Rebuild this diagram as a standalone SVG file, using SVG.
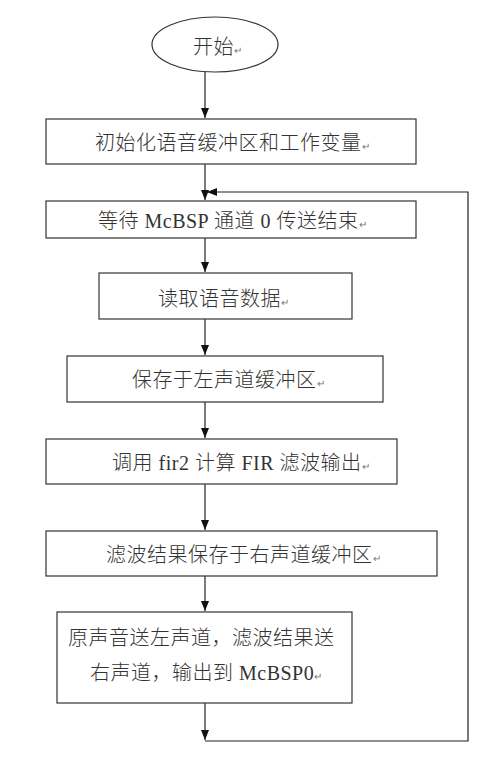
<svg xmlns="http://www.w3.org/2000/svg" width="500" height="778" viewBox="0 0 500 778">
<defs>
<marker id="arr" markerUnits="userSpaceOnUse" markerWidth="10" markerHeight="8" refX="10" refY="4" orient="auto" viewBox="0 0 10 8">
<path d="M0,0 L10,4 L0,8 z" fill="#111"/>
</marker>
<style>
.box{fill:#fff;stroke:#333;stroke-width:1.2}
.t{font-family:"Liberation Serif","Noto Sans CJK SC",serif;font-size:20px;font-weight:300;fill:#333;letter-spacing:0.5px}
.rt{font-size:10px;fill:#777;letter-spacing:0}
.c{fill:none;stroke:#222;stroke-width:1.2}
</style>
</defs>
<rect width="500" height="778" fill="#fff"/>
<g id="connectors">
<path class="c" d="M205,72 V118" marker-end="url(#arr)"/>
<path class="c" d="M205,164 V200" marker-end="url(#arr)"/>
<path class="c" d="M205,238 V272" marker-end="url(#arr)"/>
<path class="c" d="M205,319 V355" marker-end="url(#arr)"/>
<path class="c" d="M205,402 V438" marker-end="url(#arr)"/>
<path class="c" d="M205,484 V530" marker-end="url(#arr)"/>
<path class="c" d="M205,576 V611" marker-end="url(#arr)"/>
<path class="c" d="M205,703 V740" marker-end="url(#arr)"/>
<path class="c" d="M205,741 H468 V192 H207" marker-end="url(#arr)"/>
</g>
<g id="start">
<ellipse cx="215" cy="44.5" rx="63" ry="27.5" class="box"/>
<text class="t" x="193" y="54">开始<tspan class="rt">↵</tspan></text>
</g>
<g id="init">
<rect class="box" x="46" y="119" width="370" height="45"/>
<text class="t" x="95" y="150">初始化语音缓冲区和工作变量<tspan class="rt">↵</tspan></text>
</g>
<g id="wait">
<rect class="box" x="46" y="201" width="370" height="37"/>
<text class="t" x="98" y="228">等待 McBSP 通道 0 传送结束<tspan class="rt">↵</tspan></text>
</g>
<g id="read">
<rect class="box" x="99" y="273" width="253" height="46"/>
<text class="t" x="158" y="306">读取语音数据<tspan class="rt">↵</tspan></text>
</g>
<g id="saveLeft">
<rect class="box" x="67" y="356" width="316" height="46"/>
<text class="t" x="132" y="387">保存于左声道缓冲区<tspan class="rt">↵</tspan></text>
</g>
<g id="fir">
<rect class="box" x="46" y="439" width="351" height="45"/>
<text class="t" x="112" y="470">调用 fir2 计算 FIR 滤波输出<tspan class="rt">↵</tspan></text>
</g>
<g id="saveRight">
<rect class="box" x="46" y="531" width="391" height="45"/>
<text class="t" x="106" y="562">滤波结果保存于右声道缓冲区<tspan class="rt">↵</tspan></text>
</g>
<g id="output">
<rect class="box" x="57" y="612" width="295" height="91"/>
<text class="t" x="68" y="645" letter-spacing="1">原声音送左声道，滤波结果送</text>
<text class="t" x="90" y="680" letter-spacing="1">右声道，输出到 McBSP0<tspan class="rt" letter-spacing="0">↵</tspan></text>
</g>
</svg>
